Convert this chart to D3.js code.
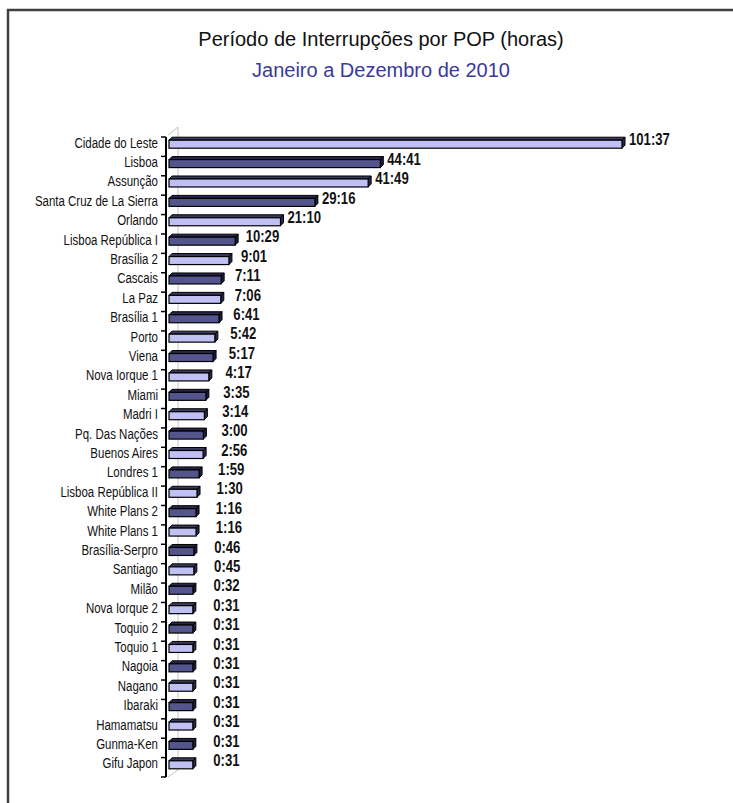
<!DOCTYPE html>
<html>
<head>
<meta charset="utf-8">
<script src="https://cdn.jsdelivr.net/npm/d3@7"></script>
<style>
  html, body { margin: 0; padding: 0; background: #fff; }
  svg { display: block; }
</style>
</head>
<body>
<svg id="chart" width="733" height="803"></svg>
<script>
// Outage time per POP, Jan–Dec 2010 (hh:mm)
const categories = [
  "Cidade do Leste", "Lisboa", "Assunção", "Santa Cruz de La Sierra", "Orlando",
  "Lisboa República I", "Brasília 2", "Cascais", "La Paz", "Brasília 1",
  "Porto", "Viena", "Nova Iorque 1", "Miami", "Madri I",
  "Pq. Das Nações", "Buenos Aires", "Londres 1", "Lisboa República II", "White Plans 2",
  "White Plans 1", "Brasília-Serpro", "Santiago", "Milão", "Nova Iorque 2",
  "Toquio 2", "Toquio 1", "Nagoia", "Nagano", "Ibaraki",
  "Hamamatsu", "Gunma-Ken", "Gifu Japon"
];
const durations = [
  "101:37", "44:41", "41:49", "29:16", "21:10",
  "10:29", "9:01", "7:11", "7:06", "6:41",
  "5:42", "5:17", "4:17", "3:35", "3:14",
  "3:00", "2:56", "1:59", "1:30", "1:16",
  "1:16", "0:46", "0:45", "0:32", "0:31",
  "0:31", "0:31", "0:31", "0:31", "0:31",
  "0:31", "0:31", "0:31"
];
const title = "Período de Interrupções por POP (horas)";
const subtitle = "Janeiro a Dezembro de 2010";

const hours = durations.map(s => {
  const [h, m] = s.split(":").map(Number);
  return h + m / 60;
});

const FONT = "'Liberation Sans', Arial, sans-serif";
const NARROW = 0.82;   // horizontal squeeze for the condensed labels

const svg = d3.select("#chart");

// outer frame (top and left edges)
svg.append("path")
  .attr("d", "M8,803 V10 H733")
  .attr("fill", "none")
  .attr("stroke", "#404040")
  .attr("stroke-width", 2.5);

// titles
svg.append("text")
  .attr("x", 381).attr("y", 46)
  .attr("text-anchor", "middle")
  .style("font", `20px ${FONT}`)
  .attr("fill", "#111")
  .text(title);
svg.append("text")
  .attr("x", 381).attr("y", 77)
  .attr("text-anchor", "middle")
  .style("font", `20px ${FONT}`)
  .attr("fill", "#3a3a9a")
  .text(subtitle);

// scales
const y = d3.scaleBand().domain(categories).range([137, 777]);
const x = d3.scaleLinear().domain([-5.1, d3.max(hours)]).range([169, 622]);
const axisX = 166;
const depth = 3;        // 3-D offset of the bar tops
const faceH = 8;        // front face height
const lift = -4;        // bars sit slightly above the band centre (perspective)
const rowY = c => y(c) + y.bandwidth() / 2 + lift;

// back wall / floor hint lines
const wall = svg.append("g").attr("stroke", "#c4c4c4").attr("stroke-width", 1).attr("fill", "none");
const [r0, r1] = y.range();
wall.append("path").attr("d", `M${axisX + 2},${r0 - 2} L${axisX + 12},${r0 - 10} V${r1 - 7} L${axisX + 2},${r1}`);

// bars
const palette = {
  light: { front: "#c0c0f4", top: "#3a3a5e", side: "#2a2a48" },
  dark:  { front: "#55558e", top: "#26264a", side: "#1c1c38" }
};
const bars = svg.append("g")
  .selectAll("g")
  .data(categories.map((c, i) => ({ c, v: hours[i], label: durations[i], i })))
  .join("g");

bars.each(function(d) {
  const g = d3.select(this);
  const col = d.i % 2 === 0 ? palette.light : palette.dark;
  const x0 = x(x.domain()[0]);
  const x1 = x(d.v);
  const cy = rowY(d.c);
  const top = cy - 2.5, bot = top + faceH;
  g.append("polygon")
    .attr("points", [[x0, top], [x0 + depth, top - depth], [x1 + depth, top - depth], [x1, top]].join(" "))
    .attr("fill", col.top).attr("stroke", "#000").attr("stroke-width", 1).attr("stroke-linejoin", "round");
  g.append("polygon")
    .attr("points", [[x1, top], [x1 + depth, top - depth], [x1 + depth, bot - depth], [x1, bot]].join(" "))
    .attr("fill", col.side).attr("stroke", "#000").attr("stroke-width", 1).attr("stroke-linejoin", "round");
  g.append("rect")
    .attr("x", x0).attr("y", top)
    .attr("width", x1 - x0).attr("height", faceH)
    .attr("fill", col.front).attr("stroke", "#000").attr("stroke-width", 1.2);
});

// value labels
bars.append("g")
  .attr("transform", d => `translate(${x(d.v) + depth + 4 + Math.max(0, 14 - d.v)},${rowY(d.c) + 2.7})`)
  .append("text")
  .attr("transform", `scale(${NARROW},1)`)
  .style("font", `bold 16px ${FONT}`)
  .attr("fill", "#111")
  .text(d => d.label);

// category axis
const axis = svg.append("g").attr("stroke", "#000");
axis.append("line")
  .attr("x1", axisX).attr("x2", axisX)
  .attr("y1", r0).attr("y2", r1)
  .attr("stroke-width", 2);
d3.range(categories.length + 1).forEach(k => {
  const ty = r0 + k * y.step();
  axis.append("line")
    .attr("x1", axisX - 5).attr("x2", axisX)
    .attr("y1", ty).attr("y2", ty)
    .attr("stroke-width", 1.5);
});

svg.append("g")
  .selectAll("g")
  .data(categories)
  .join("g")
  .attr("transform", c => `translate(158,${rowY(c) + 5})`)
  .append("text")
  .attr("transform", `scale(${NARROW},1)`)
  .attr("text-anchor", "end")
  .style("font", `14px ${FONT}`)
  .attr("fill", "#111")
  .text(c => c);
</script>
</body>
</html>
